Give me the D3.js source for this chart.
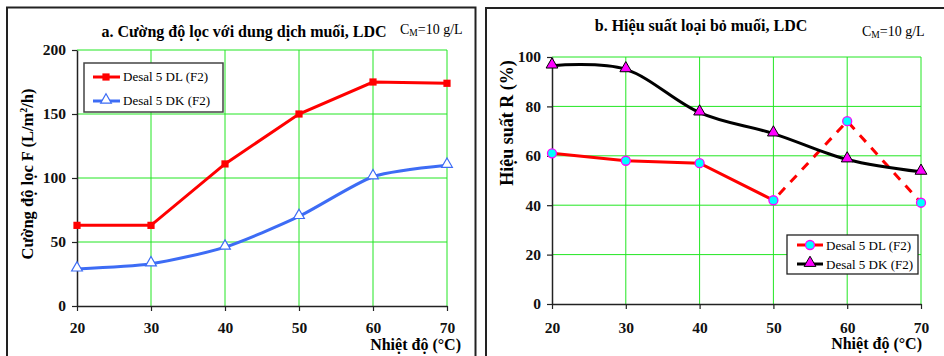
<!DOCTYPE html>
<html><head><meta charset="utf-8">
<script src="https://cdn.jsdelivr.net/npm/d3@7"></script>
<style>
html,body{margin:0;padding:0;background:#fff;}
svg{display:block;}
svg text{font-family:"Liberation Serif","Times New Roman",serif;}
</style></head>
<body><svg id="c" width="944" height="356" font-family="Liberation Serif"></svg>
<script>
const temps = [20, 30, 40, 50, 60, 70];
const fluxDL = [63, 63, 111, 150, 175, 174];
const fluxDK = [29, 33, 46, 70, 101, 110];
const rejDL = [61, 58, 57, 42, 74, 41];
const rejDK = [96.5, 95, 77.5, 69, 58.5, 53.5];
const fluxTicks = [0, 50, 100, 150, 200];
const rejTicks = [0, 20, 40, 60, 80, 100];
const seriesNames = ["Desal 5 DL (F2)", "Desal 5 DK (F2)"];

const FONT = "Liberation Serif";
const svg = d3.select("#c");
const GRID = "#22e622";

// panel frames
svg.append("rect").attr("x", 7).attr("y", 7.5).attr("width", 468.5).attr("height", 400)
  .attr("fill", "none").attr("stroke", "#222").attr("stroke-width", 2);
svg.append("rect").attr("x", 486).attr("y", 8).attr("width", 500).attr("height", 400)
  .attr("fill", "none").attr("stroke", "#222").attr("stroke-width", 2);

function panel(cfg) {
  const g = svg.append("g").attr("font-family", FONT);
  const x = d3.scaleLinear().domain([20, 70]).range(cfg.xr);
  const y = d3.scaleLinear().domain(cfg.yd).range(cfg.yr);
  // grid
  g.append("g").selectAll("line").data(temps.slice(1)).join("line")
    .attr("x1", d => x(d)).attr("x2", d => x(d)).attr("y1", cfg.yr[0]).attr("y2", cfg.yr[1])
    .attr("stroke", GRID).attr("stroke-width", 1);
  g.append("g").selectAll("line").data(cfg.ticks.slice(1)).join("line")
    .attr("x1", cfg.xr[0]).attr("x2", cfg.xr[1]).attr("y1", d => y(d)).attr("y2", d => y(d))
    .attr("stroke", GRID).attr("stroke-width", 1);
  // axes
  const ax = g.append("g").attr("transform", `translate(0,${cfg.yr[0]})`)
    .call(d3.axisBottom(x).tickValues(temps).tickSize(5).tickPadding(cfg.xpad).tickSizeOuter(0));
  const ay = g.append("g").attr("transform", `translate(${cfg.xr[0]},0)`)
    .call(d3.axisLeft(y).tickValues(cfg.ticks).tickSize(5).tickPadding(6).tickSizeOuter(0));
  [ax, ay].forEach(a => {
    a.attr("font-family", FONT);
    a.select(".domain").attr("stroke", "#222").attr("stroke-width", 1.5);
    a.selectAll(".tick line").attr("stroke", "#222").attr("stroke-width", 1.2);
    a.selectAll("text").attr("font-family", FONT).attr("font-weight", "bold")
      .attr("font-size", 15.5).attr("fill", "#111");
  });
  // titles
  g.append("text").attr("x", cfg.title.x).attr("y", cfg.title.y).attr("text-anchor", "middle")
    .attr("font-size", 16).attr("font-weight", "bold").text(cfg.title.t);
  const cm = g.append("text").attr("x", cfg.cm.x).attr("y", cfg.cm.y).attr("font-size", 14);
  cm.append("tspan").text("C");
  cm.append("tspan").attr("font-size", 9.5).attr("dy", 2).text("M");
  cm.append("tspan").attr("dy", -2).text("=10 g/L");
  g.append("text").attr("x", cfg.xt.x).attr("y", cfg.xt.y).attr("text-anchor", "end")
    .attr("font-size", 16).attr("font-weight", "bold").text("Nhiệt độ (°C)");
  const yt = g.append("text").attr("transform", `translate(${cfg.yt.x},${cfg.yt.y}) rotate(-90)`)
    .attr("text-anchor", "middle").attr("font-size", cfg.yt.fs).attr("font-weight", "bold");
  cfg.yt.parts.forEach(p => {
    const t = yt.append("tspan").text(p.t);
    if (p.sup) t.attr("font-size", 10).attr("dy", -6);
    if (p.after) t.attr("dy", 6);
  });
  return {g, x, y};
}

// ---------- Panel a ----------
const A = panel({
  xr: [77, 447], yd: [0, 200], yr: [306, 50], ticks: fluxTicks, xpad: 11,
  title: {x: 244, y: 37, t: "a. Cường độ lọc với dung dịch muối, LDC"},
  cm: {x: 400, y: 34},
  xt: {x: 461, y: 350},
  yt: {x: 33, y: 174, fs: 16.5, parts: [{t: "Cường độ lọc F (L/m"}, {t: "2", sup: true}, {t: "/h)", after: true}]}
});
A.g.append("path").datum(d3.zip(temps, fluxDL))
  .attr("d", d3.line().x(d => A.x(d[0])).y(d => A.y(d[1])))
  .attr("fill", "none").attr("stroke", "#ff0000").attr("stroke-width", 3);
A.g.append("path").datum(d3.zip(temps, fluxDK))
  .attr("d", d3.line().x(d => A.x(d[0])).y(d => A.y(d[1])).curve(d3.curveCardinal.tension(0.3)))
  .attr("fill", "none").attr("stroke", "#3d6cf5").attr("stroke-width", 3);
const sq = d3.symbol().type(d3.symbolSquare).size(52);
const tri = d3.symbol().type(d3.symbolTriangle).size(50);
A.g.selectAll(".mdl").data(d3.zip(temps, fluxDL)).join("path")
  .attr("transform", d => `translate(${A.x(d[0])},${A.y(d[1])})`).attr("d", sq).attr("fill", "#ff0000");
A.g.selectAll(".mdk").data(d3.zip(temps, fluxDK)).join("path")
  .attr("transform", d => `translate(${A.x(d[0])},${A.y(d[1]) - 1})`).attr("d", tri)
  .attr("fill", "#fff").attr("stroke", "#3d6cf5").attr("stroke-width", 1.2);
// legend a
const la = A.g.append("g");
la.append("rect").attr("x", 84).attr("y", 63).attr("width", 139).attr("height", 49)
  .attr("fill", "#fff").attr("stroke", "#444").attr("stroke-width", 1.5);
la.append("line").attr("x1", 93).attr("x2", 120).attr("y1", 77).attr("y2", 77).attr("stroke", "#ff0000").attr("stroke-width", 3);
la.append("path").attr("transform", "translate(106,77)").attr("d", sq).attr("fill", "#ff0000");
la.append("line").attr("x1", 93).attr("x2", 120).attr("y1", 101).attr("y2", 101).attr("stroke", "#3d6cf5").attr("stroke-width", 3);
la.append("path").attr("transform", "translate(106,100)").attr("d", tri).attr("fill", "#fff").attr("stroke", "#3d6cf5").attr("stroke-width", 1.2);
la.append("text").attr("x", 123).attr("y", 81).attr("font-size", 13).attr("font-family", FONT).text(seriesNames[0]);
la.append("text").attr("x", 123).attr("y", 105).attr("font-size", 13).attr("font-family", FONT).text(seriesNames[1]);

// ---------- Panel b ----------
const B = panel({
  xr: [552, 921], yd: [0, 100], yr: [304, 57], ticks: rejTicks, xpad: 13,
  title: {x: 701, y: 31, t: "b. Hiệu suất loại bỏ muối, LDC"},
  cm: {x: 862, y: 36},
  xt: {x: 922, y: 349},
  yt: {x: 513, y: 123, fs: 18, parts: [{t: "Hiệu suất R (%)"}]}
});
const dlPts = d3.zip(temps, rejDL);
B.g.append("path").datum(dlPts.slice(0, 4))
  .attr("d", d3.line().x(d => B.x(d[0])).y(d => B.y(d[1])))
  .attr("fill", "none").attr("stroke", "#ff0000").attr("stroke-width", 3);
B.g.append("path").datum(dlPts.slice(3))
  .attr("d", d3.line().x(d => B.x(d[0])).y(d => B.y(d[1])))
  .attr("fill", "none").attr("stroke", "#ff0000").attr("stroke-width", 3).attr("stroke-dasharray", "9,8")
  .attr("stroke-dashoffset", -8);
B.g.append("path").datum(d3.zip(temps, rejDK))
  .attr("d", d3.line().x(d => B.x(d[0])).y(d => B.y(d[1])).curve(d3.curveCardinal.tension(0)))
  .attr("fill", "none").attr("stroke", "#000").attr("stroke-width", 3);
const tri2 = d3.symbol().type(d3.symbolTriangle).size(60);
B.g.selectAll(".mdl").data(dlPts).join("circle")
  .attr("cx", d => B.x(d[0])).attr("cy", d => B.y(d[1])).attr("r", 4.5)
  .attr("fill", "#00ffff").attr("stroke", "#ff00ff").attr("stroke-width", 1.3);
B.g.selectAll(".mdk").data(d3.zip(temps, rejDK)).join("path")
  .attr("transform", d => `translate(${B.x(d[0])},${B.y(d[1]) - 1})`).attr("d", tri2)
  .attr("fill", "#ff00ff").attr("stroke", "#000").attr("stroke-width", 1);
// legend b
const lb = B.g.append("g");
lb.append("rect").attr("x", 787).attr("y", 235).attr("width", 131).attr("height", 39)
  .attr("fill", "#fff").attr("stroke", "#222").attr("stroke-width", 1.3);
lb.append("line").attr("x1", 797).attr("x2", 823).attr("y1", 245).attr("y2", 245).attr("stroke", "#ff0000").attr("stroke-width", 3);
lb.append("circle").attr("cx", 810).attr("cy", 245).attr("r", 4.5).attr("fill", "#00ffff").attr("stroke", "#ff00ff").attr("stroke-width", 1.3);
lb.append("line").attr("x1", 797).attr("x2", 823).attr("y1", 264).attr("y2", 264).attr("stroke", "#000").attr("stroke-width", 3);
lb.append("path").attr("transform", "translate(810,263)").attr("d", tri2).attr("fill", "#ff00ff").attr("stroke", "#000").attr("stroke-width", 1);
lb.append("text").attr("x", 826).attr("y", 250).attr("font-size", 13).attr("font-family", FONT).text(seriesNames[0]);
lb.append("text").attr("x", 826).attr("y", 269).attr("font-size", 13).attr("font-family", FONT).text(seriesNames[1]);
</script></body></html>
